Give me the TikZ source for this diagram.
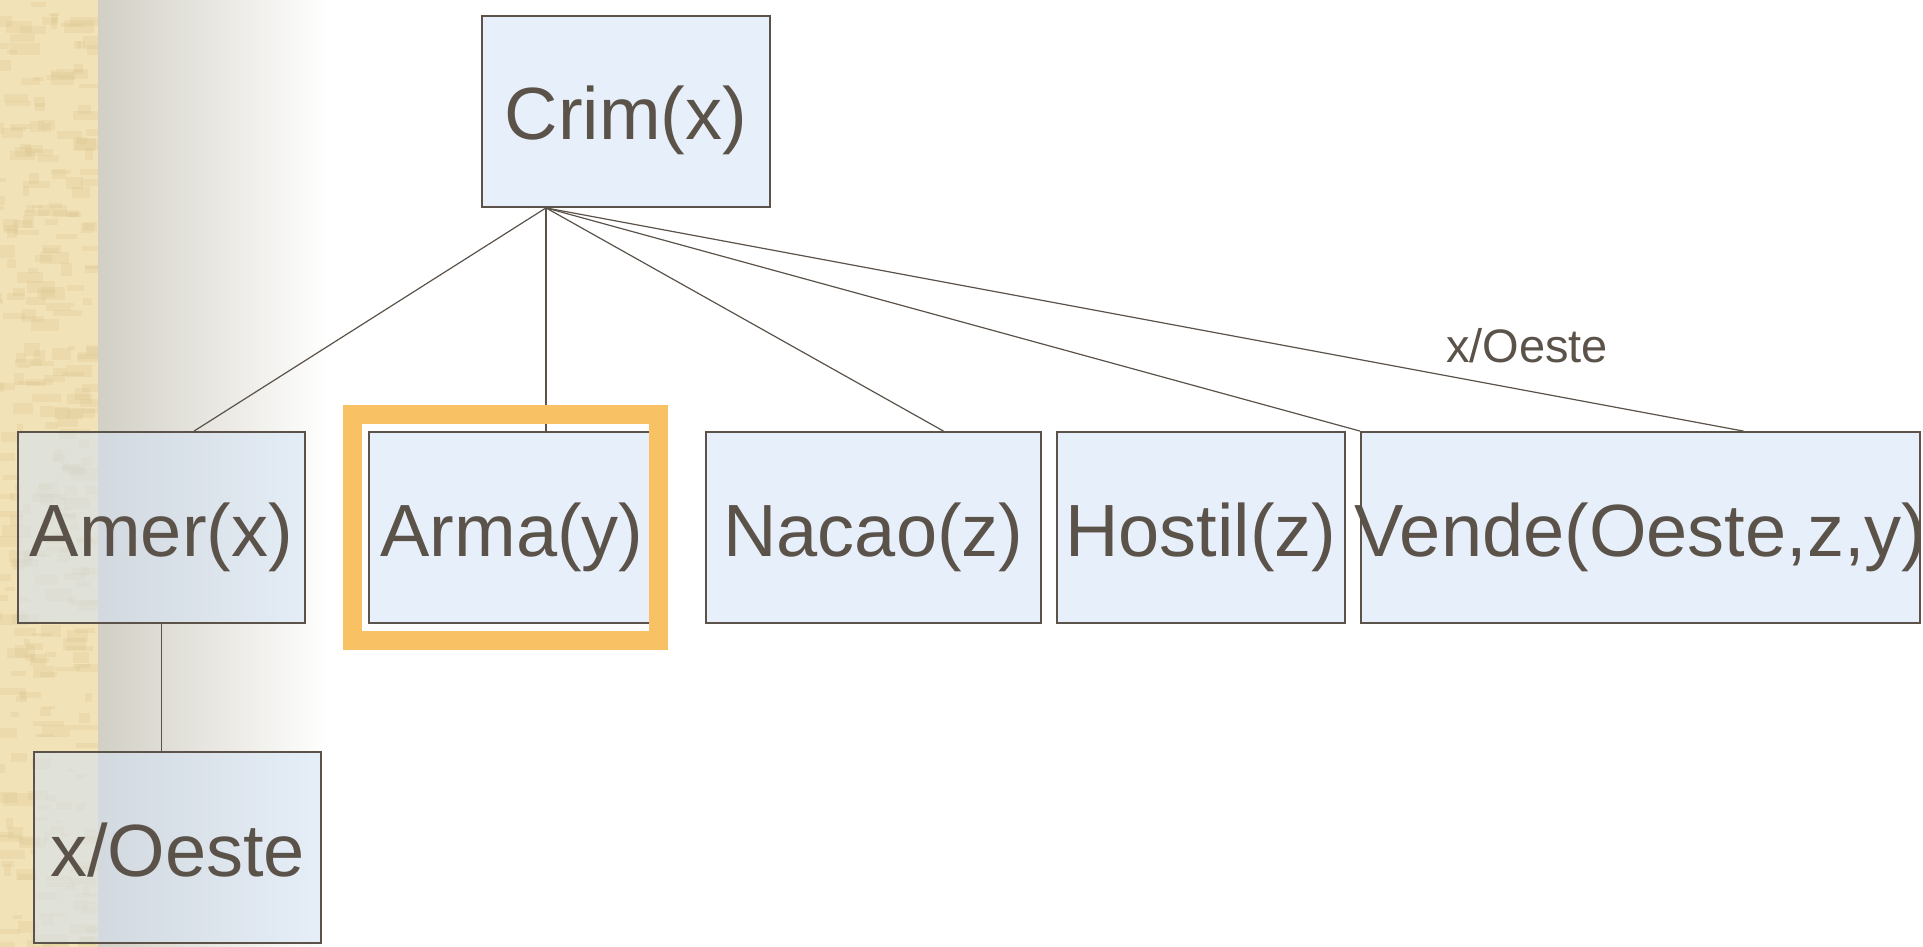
\documentclass[tikz,border=0pt]{standalone}
\usepackage{fontspec}
\setmainfont{Liberation Sans}
\usetikzlibrary{calc}
\definecolor{inkBrown}{HTML}{5B5249}
\definecolor{boxBlue}{HTML}{D3E2F5}
\definecolor{sandLight}{HTML}{F2E2B8}
\definecolor{sandDark}{HTML}{DCC48F}
\definecolor{shadeGray}{HTML}{D2CFC5}
\definecolor{markOrange}{HTML}{F8C264}
\begin{document}
\begin{tikzpicture}
[x=1pt,y=-1pt,%
  darkLine/.style={-,line width=1.2pt,color=inkBrown},%
  nodeDecorate/.style={shape=rectangle,draw=inkBrown,line width=1.8pt,fill=boxBlue,
    fill opacity=0.55,text opacity=1,text=inkBrown,inner sep=0pt,
    text height=57pt,text depth=0pt,
    minimum height=191pt,font=\fontsize{74}{82}\selectfont},%
  edgeLabel/.style={text=inkBrown,font=\fontsize{47}{52}\selectfont}]
\useasboundingbox (0,0) rectangle (1923,947);
%% background strip
\fill[sandLight] (0,0) rectangle (98,947);
\begin{scope}
\clip (0,0) rectangle (98,947);
\pgfmathsetseed{11}
\foreach \i in {1,...,320}
{
  \fill[sandDark,opacity=0.25] (rnd*98-10,rnd*947) rectangle ++(rnd*25+6,rnd*10+3);
}
\end{scope}
\shade[left color=shadeGray,right color=white] (98,0) rectangle (330,947);
%% nodes or boxes
\foreach \nodename/\x/\y/\w/\txt in {crim/626/111.5/288/Crim(x), amer/161.5/527.5/287/Amer(x),
  arma/512/527.5/286/Arma(y), nacao/873.5/527.5/335/Nacao(z), hostil/1201/527.5/288/Hostil(z),
  vende/1640.5/527.5/559/{Vende(Oeste,z,y)}, oeste/177.5/847.5/287/{x/Oeste}}
{
  \node (\nodename) at (\x,\y) [nodeDecorate,minimum width=\w pt] {\makebox[\w pt]{\txt}};
}
%% end points of the lines
\coordinate (root) at ([xshift=-80pt]crim.south);
\coordinate (amerTop) at ([xshift=32.5pt]amer.north);
\coordinate (armaTop) at (root |- arma.north);
\coordinate (nacaoTop) at ([xshift=70pt]nacao.north);
\coordinate (vendeTop) at ([xshift=103pt]vende.north);
\coordinate (oesteTop) at (amer.south |- oeste.north);
%% dark edges or lines
\path
\foreach \endnode in {amerTop, armaTop, nacaoTop, vende.north west, vendeTop}
{
  (root) edge[darkLine] (\endnode)
};
\path (amer.south) edge[darkLine] (oesteTop);
%% label and highlight
\node (subst) at (1527,346) [edgeLabel] {x/Oeste};
\draw[markOrange,line width=19pt] (arma.north west) ++(-15.5,-16.5) rectangle ([xshift=2.5pt,yshift=-16.5pt]arma.south east);
\end{tikzpicture}
\end{document}
